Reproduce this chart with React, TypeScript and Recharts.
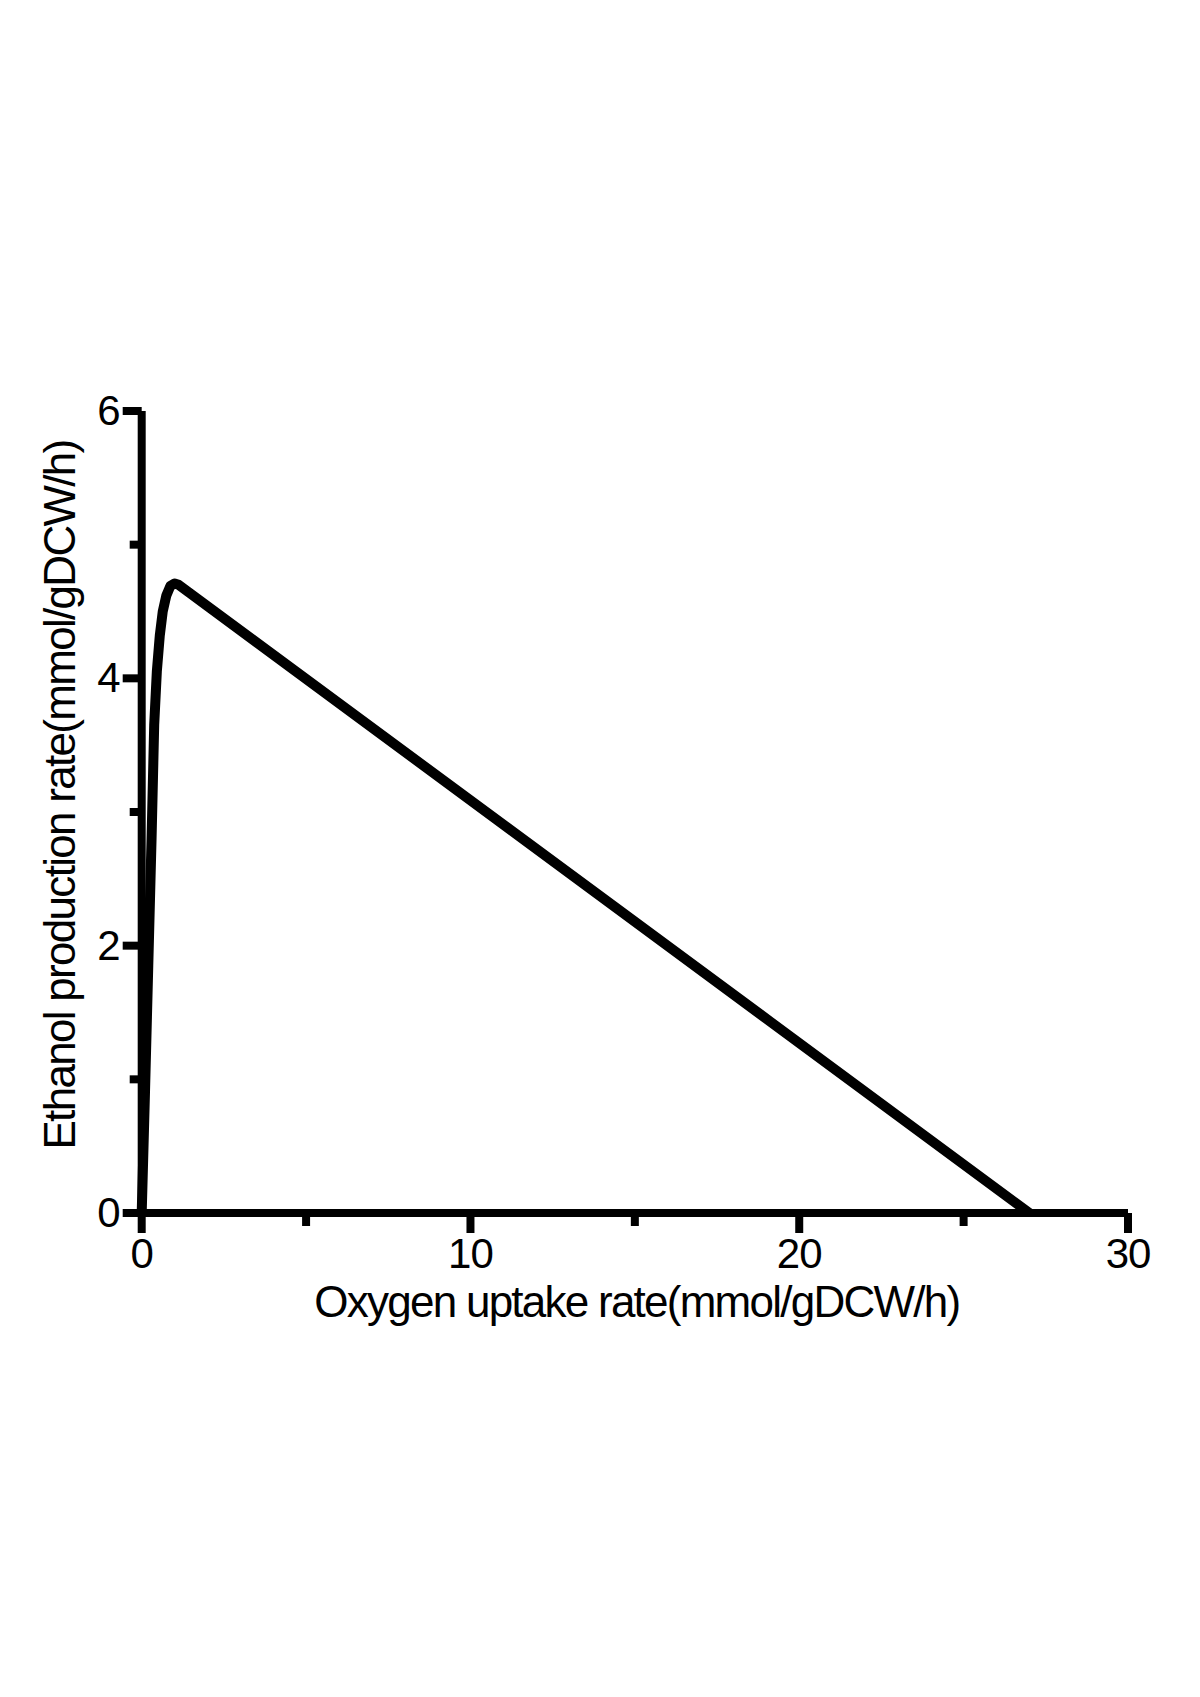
import { LineChart, Line, XAxis, YAxis, Label } from "recharts";

const oxygenUptake = [0, 0.1, 0.2, 0.3, 0.38, 0.46, 0.55, 0.64, 0.75, 0.87, 1.0, 1.12, 27];
const ethanolProduction = [0, 0.9, 1.85, 2.8, 3.65, 4.05, 4.32, 4.5, 4.62, 4.69, 4.71, 4.7, 0];

const xTicks = [0, 5, 10, 15, 20, 25, 30];
const yTicks = [0, 1, 2, 3, 4, 5, 6];

const xTitle = "Oxygen uptake rate(mmol/gDCW/h)";
const yTitle = "Ethanol production rate(mmol/gDCW/h)";

const data = oxygenUptake.map((x, i) => ({ x, y: ethanolProduction[i] }));

const FONT = "'Liberation Sans', Arial, Helvetica, sans-serif";

function XTick({ x, y, payload }: any) {
  const major = payload.value % 10 === 0;
  const len = major ? 20 : 13;
  return (
    <g>
      <line x1={x} x2={x} y1={y} y2={y + len} stroke="#000" strokeWidth={8} />
      {major && (
        <text x={x} y={y + 55} textAnchor="middle" fontSize={42} fontFamily={FONT} fill="#000" letterSpacing={-1}>
          {payload.value}
        </text>
      )}
    </g>
  );
}

function YTick({ x, y, payload }: any) {
  const major = payload.value % 2 === 0;
  const len = major ? 19 : 12;
  return (
    <g>
      <line x1={x - len} x2={x} y1={y} y2={y} stroke="#000" strokeWidth={8} />
      {major && (
        <text x={x - 21} y={y + 14} textAnchor="end" fontSize={42} fontFamily={FONT} fill="#000">
          {payload.value}
        </text>
      )}
    </g>
  );
}

export default function App() {
  return (
    <div style={{ position: "absolute", left: 0, top: 0, width: 1200, height: 1697, background: "#fff" }}>
      <LineChart
        width={1200}
        height={1697}
        data={data}
        margin={{ top: 411, right: 72, bottom: 384, left: 41.7 }}
      >
        <XAxis
          dataKey="x"
          type="number"
          domain={[0, 30]}
          ticks={xTicks}
          interval={0}
          height={100}
          tickSize={0}
          tickMargin={0}
          tickLine={false}
          axisLine={{ stroke: "#000", strokeWidth: 8 }}
          tick={<XTick />}
        >
          <Label
            content={({ viewBox }: any) => (
              <text
                x={viewBox.x + viewBox.width / 2 + 2}
                y={viewBox.y + 104}
                textAnchor="middle"
                fontSize={44}
                fontFamily={FONT}
                letterSpacing={-1.75}
                fill="#000"
              >
                {xTitle}
              </text>
            )}
          />
        </XAxis>
        <YAxis
          type="number"
          domain={[0, 6]}
          ticks={yTicks}
          interval={0}
          width={100}
          tickSize={0}
          tickMargin={0}
          tickLine={false}
          axisLine={{ stroke: "#000", strokeWidth: 8 }}
          tick={<YTick />}
        >
          <Label
            content={({ viewBox }: any) => {
              const cx = viewBox.x + 33;
              const cy = viewBox.y + viewBox.height / 2 - 17;
              return (
                <text
                  x={cx}
                  y={cy}
                  transform={`rotate(-90 ${cx} ${cy})`}
                  textAnchor="middle"
                  fontSize={44}
                  fontFamily={FONT}
                  letterSpacing={-1.7}
                  fill="#000"
                >
                  {yTitle}
                </text>
              );
            }}
          />
        </YAxis>
        <Line
          dataKey="y"
          type="linear"
          stroke="#000"
          strokeWidth={10}
          strokeLinejoin="round"
          dot={false}
          activeDot={false}
          isAnimationActive={false}
        />
      </LineChart>
    </div>
  );
}
